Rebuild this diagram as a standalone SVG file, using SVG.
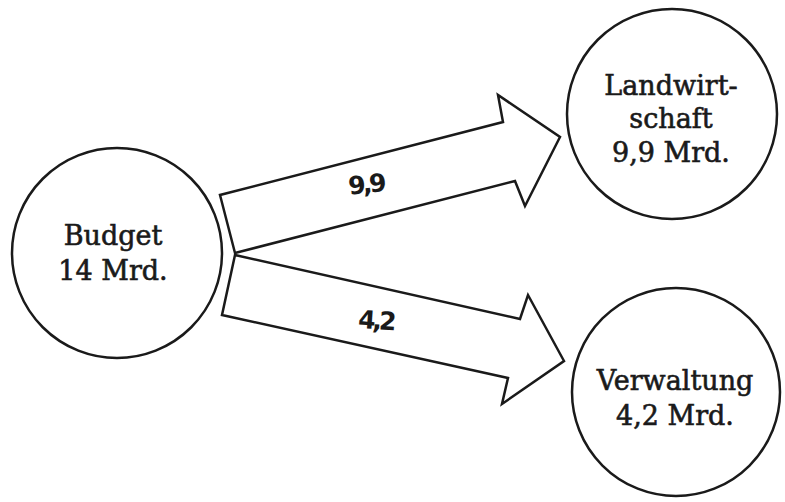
<svg xmlns="http://www.w3.org/2000/svg" width="785" height="502" viewBox="0 0 785 502">
<style>
.node{fill:#fff;stroke:#1a1a1a;stroke-width:2.5}
.arrow{fill:#fff;stroke:#1a1a1a;stroke-width:2.5;stroke-linejoin:miter}
.t{font-family:"DejaVu Serif","Liberation Serif",serif;font-size:27px;fill:#1a1a1a;stroke:#1a1a1a;stroke-width:0.6;text-anchor:middle}
.lbl{font-family:"DejaVu Sans","Liberation Sans",sans-serif;font-weight:bold;font-size:25px;letter-spacing:-3px;fill:#1a1a1a;text-anchor:middle}
</style>
<rect width="785" height="502" fill="#fff"/>
<g id="connectors">
<g id="arrow-landwirtschaft">
<polygon class="arrow" points="235,253 220,195 503,122 498,95 560,137 525,206 515,181"/>
<text class="lbl" x="366" y="193" transform="rotate(-6 366 185)">9,9</text>
</g>
<g id="arrow-verwaltung">
<polygon class="arrow" points="235,255 520,319 528,295 564,361 502,404 508,378 222,315"/>
<text class="lbl" x="376" y="329" transform="rotate(4 376 320)">4,2</text>
</g>
</g>
<g id="budget">
<circle class="node" cx="117" cy="253" r="105"/>
<text class="t" x="113" y="245">Budget</text>
<text class="t" x="113" y="280">14 Mrd.</text>
</g>
<g id="landwirtschaft">
<circle class="node" cx="672" cy="114" r="105"/>
<text class="t" x="671" y="95">Landwirt-</text>
<text class="t" x="671" y="128">schaft</text>
<text class="t" x="671" y="162">9,9 Mrd.</text>
</g>
<g id="verwaltung">
<circle class="node" cx="676" cy="392" r="104"/>
<text class="t" x="675" y="390">Verwaltung</text>
<text class="t" x="675" y="425">4,2 Mrd.</text>
</g>
</svg>
